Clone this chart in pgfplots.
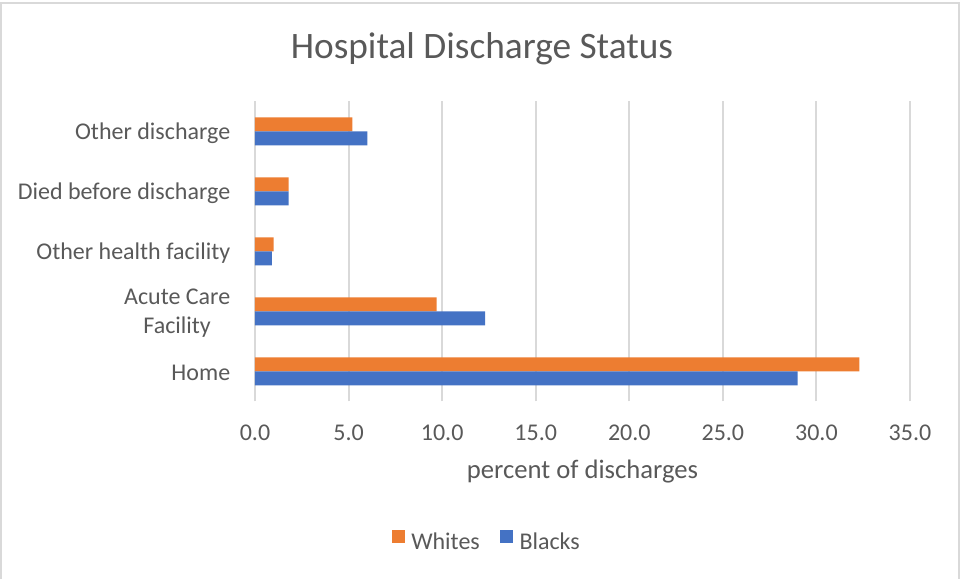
\documentclass[border=0pt]{standalone}
\usepackage{pgfplots}
\usepackage{pgfplotstable}
\pgfplotsset{compat=1.18}
\usepackage{fontspec}
\setmainfont{Carlito}

\definecolor{txt}{HTML}{595959}
\definecolor{gridc}{HTML}{D9D9D9}
\definecolor{whites}{HTML}{ED7D31}
\definecolor{blacks}{HTML}{4472C4}

% percent of discharges, category index from the bottom
\pgfplotstableread{
y whites blacks
0 32.3 29.0
1 9.7 12.3
2 1.0 0.9
3 1.8 1.8
4 5.2 6.0
}\discharge

\begin{document}
\begin{tikzpicture}
\useasboundingbox (0,0) rectangle (360.375pt,217.125pt);
\draw[gridc, line width=0.6pt] (0.45pt,-1pt) -- (0.45pt,216.1pt) -- (359.7pt,216.1pt) -- (359.7pt,-1pt);
\node[anchor=base, text=txt, font=\fontsize{14}{17}\selectfont] at (180.75pt,195.3pt) {Hospital Discharge Status};

\begin{axis}[
    at={(95.625pt,66.5625pt)}, anchor=south west,
    scale only axis, width=245.625pt, height=112.5pt,
    xbar, bar width=5.25pt,
    xmin=0, xmax=35, ymin=-0.5, ymax=4.5,
    axis line style={draw=none},
    xmajorgrids, grid style={gridc, line width=0.75pt},
    major tick length=0pt, tick style={draw=none},
    xtick={0,5,...,35},
    ytick={0,...,4},
    yticklabels={Home, {Acute Care\\Facility}, Other health facility, Died before discharge, Other discharge},
    /pgf/number format/.cd, fixed, fixed zerofill, precision=1, assume math mode=true,
    /pgfplots/.cd,
    ticklabel style={text=txt, font=\fontsize{9}{10.7}\selectfont},
    xticklabel style={anchor=base, inner sep=0pt, yshift=-14.7pt},
    yticklabel style={anchor=east, align=center, inner sep=0pt, xshift=-9.1pt, yshift=-0.7pt},
    xlabel={percent of discharges},
    xlabel style={at={(axis description cs:0.5,-0.2567)}, anchor=base, inner sep=0pt, text=txt, font=\fontsize{10}{12}\selectfont},
    legend columns=2,
    legend style={at={(axis description cs:0.3522,-0.4673)}, anchor=center, draw=none, fill=none,
        font=\fontsize{9}{10.7}\selectfont, text=txt,
        nodes={inner sep=0pt},
        column sep=2.5pt,
        /tikz/every even column/.append style={column sep=7.5pt}},
    legend image code/.code={\fill[#1] (0pt,0pt) rectangle (4.875pt,4.875pt);},
]
\addplot[fill=whites, draw=none, bar shift=2.625pt] table[x=whites, y=y] {\discharge};
\addplot[fill=blacks, draw=none, bar shift=-2.625pt] table[x=blacks, y=y] {\discharge};
\legend{Whites, Blacks}
\end{axis}
\end{tikzpicture}
\end{document}
